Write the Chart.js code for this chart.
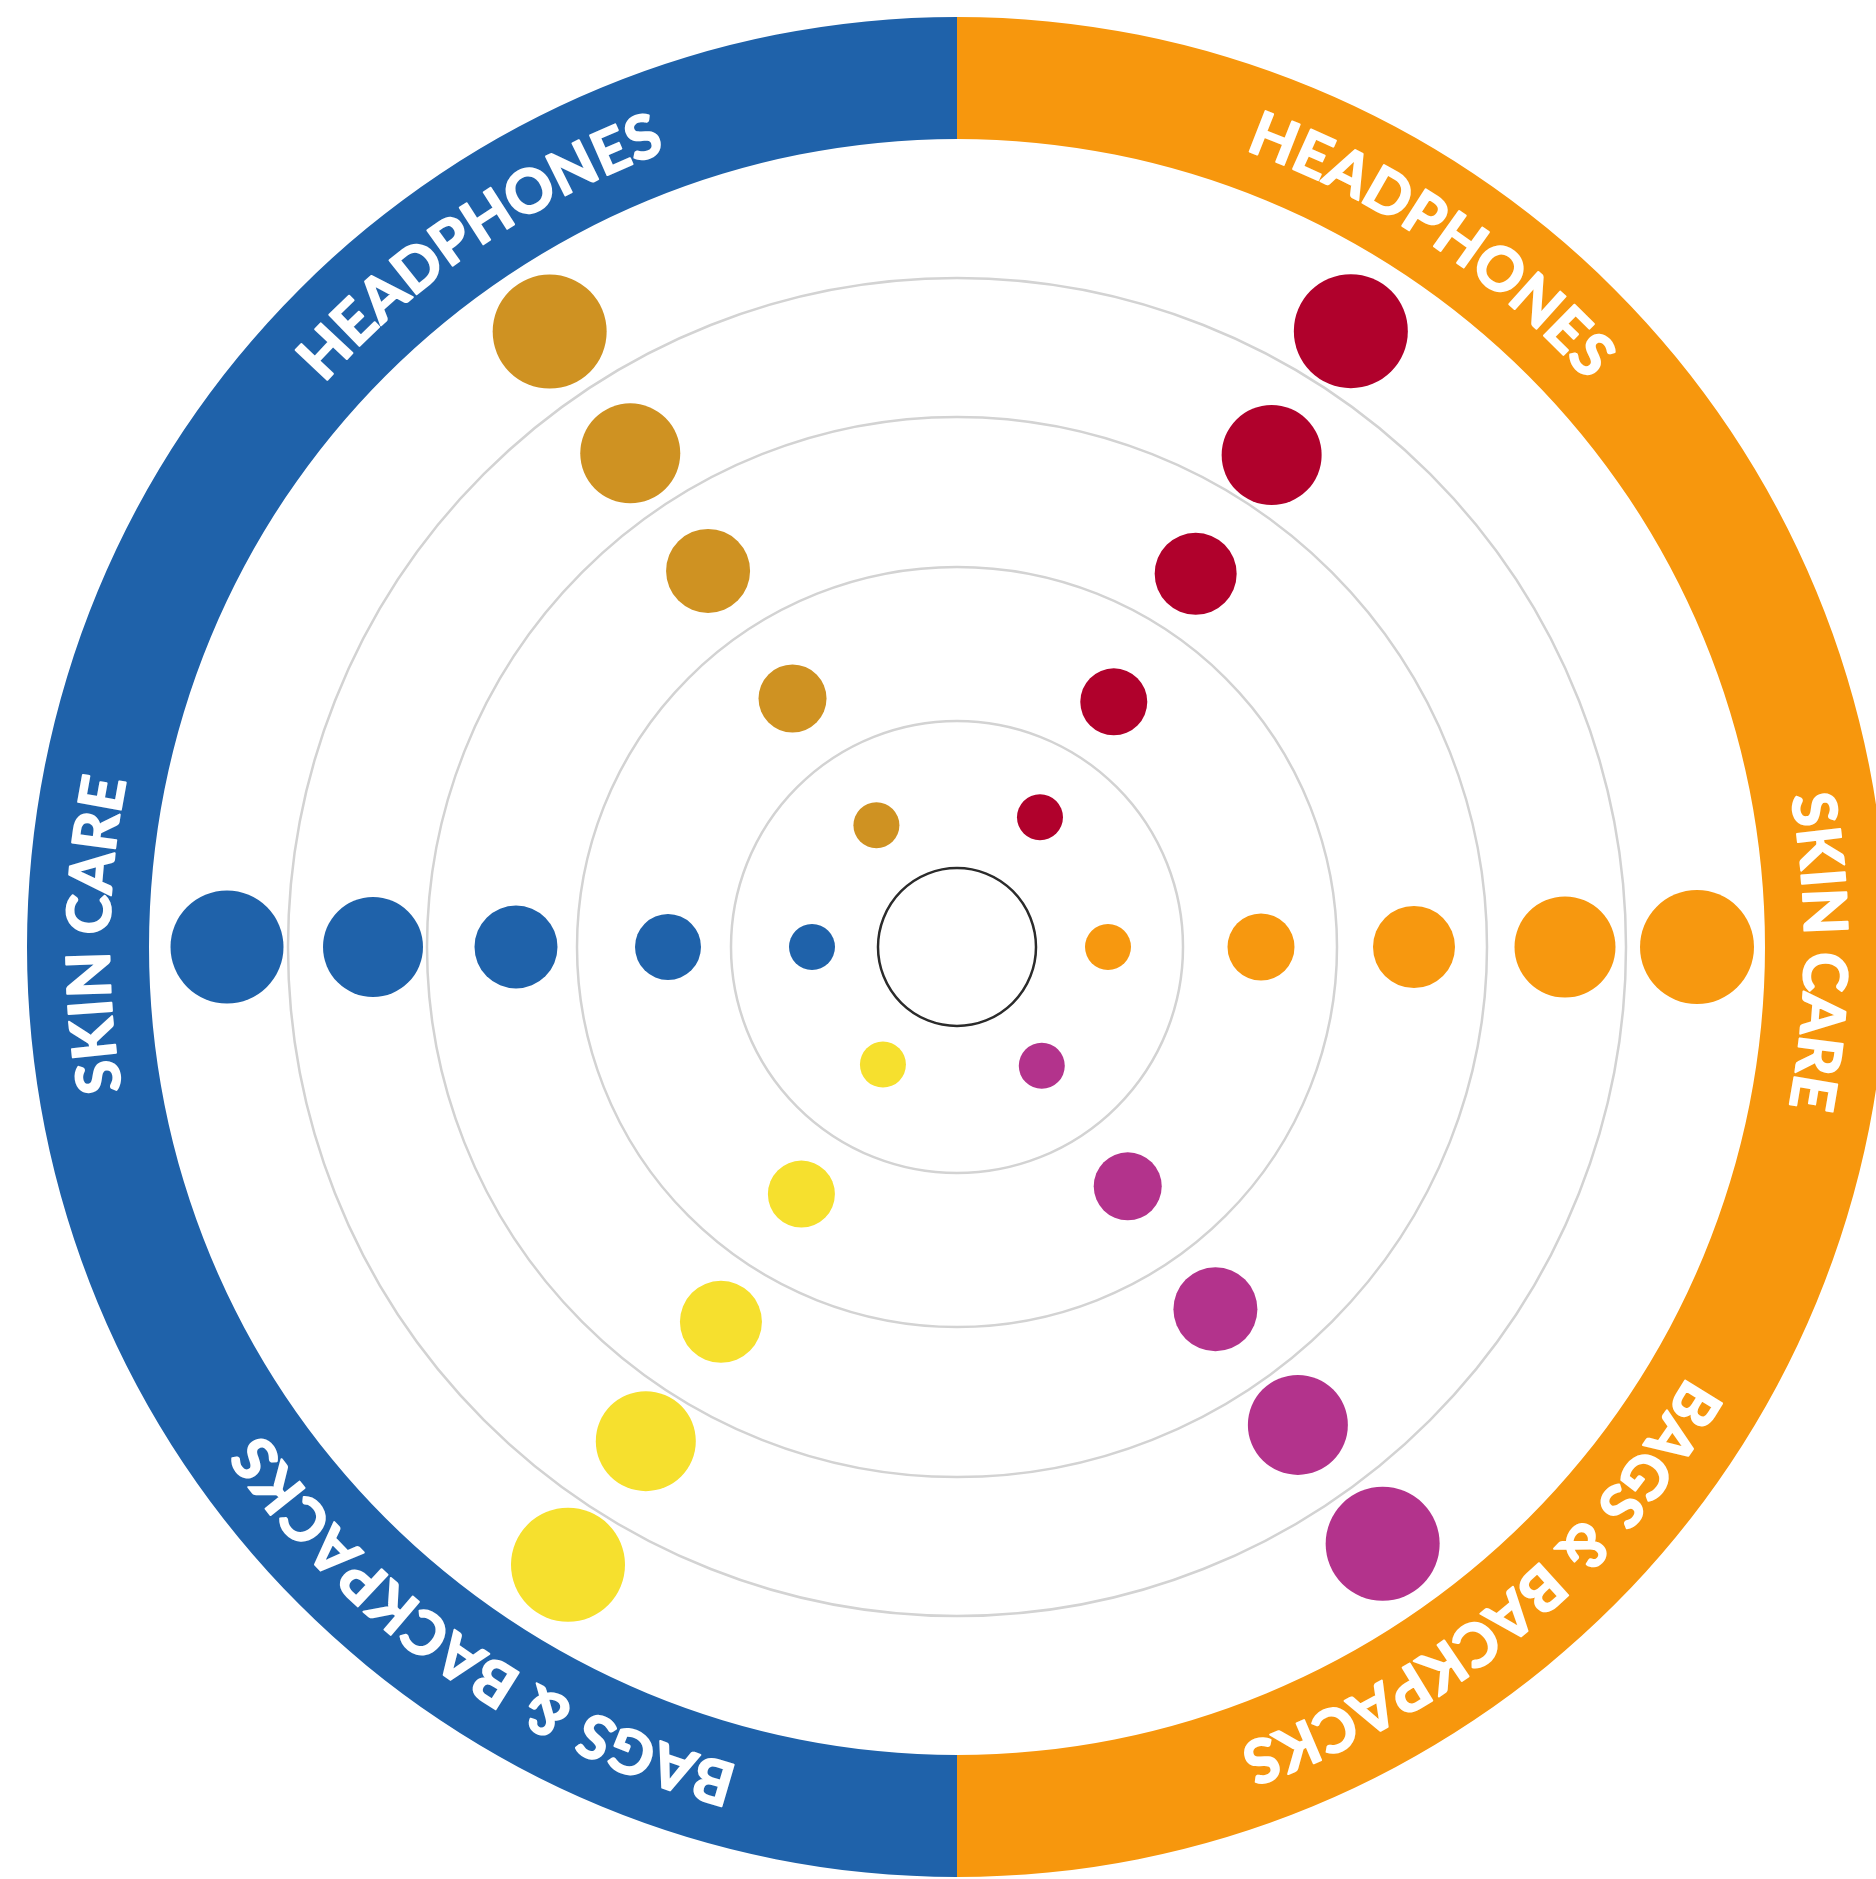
<!DOCTYPE html>
<html>
<head>
<meta charset="utf-8">
<script src="https://cdn.jsdelivr.net/npm/chart.js@4.4.1/dist/chart.umd.min.js"></script>
<style>
  html, body { margin: 0; padding: 0; background: #fff; overflow: hidden; width: 1876px; height: 1879px; }
  #ring { position: absolute; left: 27px; top: 17px; }
  #dots { position: absolute; left: 0; top: 0; }
</style>
</head>
<body>
<canvas id="ring" width="1860" height="1860"></canvas>
<canvas id="dots" width="1876" height="1879"></canvas>
<script>
// Two halves of the outer band, and the three categories written on each half
const sides = ['Orange side', 'Blue side']
const sideShare = [1, 1]
const categories = ['HEADPHONES', 'SKIN CARE', 'BAGS & BACKPACKS']

// Six spokes: distance of each dot from the centre, and its bubble radius
const spokes = ['Headphones (blue)', 'Skin care (blue)', 'Bags & backpacks (blue)',
  'Headphones (orange)', 'Skin care (orange)', 'Bags & backpacks (orange)']
const headphonesBlueDist = [146, 298, 451, 592, 738]
const skinBlueDist = [145, 289, 441, 584, 730]
const bagsBlueDist = [139, 292, 443, 584, 730]
const headphonesOrangeDist = [154, 291, 443, 584, 731]
const skinOrangeDist = [151, 304, 457, 608, 740]
const bagsOrangeDist = [146, 294, 445, 587, 733]

const headphonesBlueSize = [23, 34, 42, 50, 57]
const skinBlueSize = [23, 33, 41.5, 50, 56.5]
const bagsBlueSize = [23, 33.5, 41, 50, 57]
const headphonesOrangeSize = [23, 33.5, 41, 50, 57]
const skinOrangeSize = [23, 33.5, 41, 50.5, 57]
const bagsOrangeSize = [23, 34, 42, 50, 57]

// grey reference circles and the empty hub
const gridRings = [226, 380, 530, 669]
const hubSize = 79

// ---- layout / style ----
const BLUE = '#1f62aa'
const ORANGE = '#f7970d'
const spokeAngle = [123.5, 180, 237.8, 57.4, 0, 305.5] // degrees, counter-clockwise from 3 o'clock
const spokeColor = ['#cf9222', BLUE, '#f6e02e', '#b0012c', '#f7980f', '#b3338c']
const labelAngle = { left: [325.8, 270.8, 215], right: [34, 90.3, 140.5] } // clock degrees

const distSets = [headphonesBlueDist, skinBlueDist, bagsBlueDist, headphonesOrangeDist, skinOrangeDist, bagsOrangeDist]
const sizeSets = [headphonesBlueSize, skinBlueSize, bagsBlueSize, headphonesOrangeSize, skinOrangeSize, bagsOrangeSize]

// writes the category names clockwise along the band, letter tops facing outwards
const ringText = {
  id: 'ringText',
  afterDatasetsDraw(chart) {
    const arc = chart.getDatasetMeta(0).data[0]
    const { x, y, innerRadius, outerRadius } = arc
    const ctx = chart.ctx
    const size = 60
    const track = 1.5
    const mid = (innerRadius + outerRadius) / 2
    const base = mid - size * 0.36
    ctx.save()
    ctx.font = `bold ${size}px Lato`
    ctx.fillStyle = '#fff'
    ctx.strokeStyle = '#fff'
    ctx.lineWidth = 2
    ctx.lineJoin = 'round'
    ctx.textAlign = 'center'
    ctx.textBaseline = 'alphabetic'
    const spots = []
    categories.forEach((c, i) => {
      spots.push({ text: c, angle: labelAngle.left[i] })
      spots.push({ text: c, angle: labelAngle.right[i] })
    })
    spots.forEach(({ text, angle }) => {
      const chars = [...text]
      const w = chars.map((c) => ctx.measureText(c).width)
      const total = w.reduce((a, b) => a + b, 0) + track * (chars.length - 1)
      let a = angle * Math.PI / 180 - total / mid / 2
      chars.forEach((c, k) => {
        const ca = a + w[k] / 2 / mid
        ctx.save()
        ctx.translate(x, y)
        ctx.rotate(ca)
        ctx.fillText(c, 0, -base)
        ctx.strokeText(c, 0, -base)
        ctx.restore()
        a += (w[k] + track) / mid
      })
    })
    ctx.restore()
  }
}

new Chart(document.getElementById('ring'), {
  type: 'doughnut',
  data: {
    labels: sides,
    datasets: [{ data: sideShare, backgroundColor: [ORANGE, BLUE], borderWidth: 0 }]
  },
  options: {
    responsive: false,
    animation: false,
    events: [],
    cutout: 808,
    layout: { padding: 0 },
    plugins: { legend: { display: false }, tooltip: { enabled: false } }
  },
  plugins: [ringText]
})

const gridPlugin = {
  id: 'gridRings',
  beforeDatasetsDraw(chart) {
    const { ctx, scales: { x, y } } = chart
    const cx = x.getPixelForValue(0)
    const cy = y.getPixelForValue(0)
    ctx.save()
    ctx.strokeStyle = '#d3d3d3'
    ctx.lineWidth = 2.5
    gridRings.forEach((r) => {
      const pr = x.getPixelForValue(r) - cx
      ctx.beginPath()
      ctx.arc(cx, cy, pr, 0, Math.PI * 2)
      ctx.stroke()
    })
    ctx.restore()
  }
}

const datasets = spokes.map((name, i) => {
  const rad = spokeAngle[i] * Math.PI / 180
  return {
    label: name,
    data: distSets[i].map((d, k) => ({ x: d * Math.cos(rad), y: d * Math.sin(rad), r: sizeSets[i][k] })),
    backgroundColor: spokeColor[i],
    borderWidth: 0
  }
})
datasets.push({
  label: 'hub',
  data: [{ x: 0, y: 0, r: hubSize }],
  backgroundColor: 'rgba(0,0,0,0)',
  borderColor: '#2b2b2b',
  borderWidth: 2.5
})

new Chart(document.getElementById('dots'), {
  type: 'bubble',
  data: { datasets },
  options: {
    responsive: false,
    animation: false,
    events: [],
    layout: { padding: 0, autoPadding: false },
    plugins: { legend: { display: false }, tooltip: { enabled: false } },
    scales: {
      x: { type: 'linear', min: -957, max: 919, display: false },
      y: { type: 'linear', min: -932, max: 947, display: false }
    }
  },
  plugins: [gridPlugin]
})
</script>
</body>
</html>
